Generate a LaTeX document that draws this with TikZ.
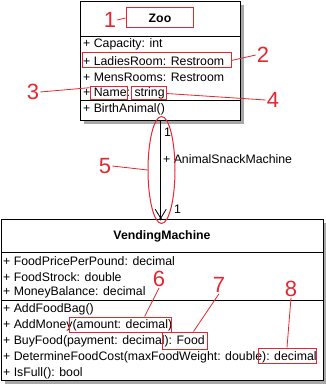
\documentclass[tikz,border=0pt]{standalone}
\usepackage{fontspec}
\setmainfont{Liberation Sans}
\usepackage{tikz}
\usetikzlibrary{positioning,shapes.geometric,arrows.meta}
\definecolor{cred}{HTML}{E8262E}
\definecolor{cshadow}{HTML}{A8A8A8}
\definecolor{ctext}{HTML}{000000}

\tikzset{
  classbox/.style={draw=black,fill=white,line width=0.9pt,inner sep=0pt},
  shadowbox/.style={fill=cshadow,draw=none,inner sep=0pt},
  member/.style={anchor=west,inner sep=0pt,font=\fontsize{12.3}{14}\selectfont,text=ctext},
  redbox/.style={draw=cred,line width=1pt,inner sep=0pt},
  redtag/.style={text=cred,font=\fontsize{22}{24}\selectfont,inner sep=1pt},
  redline/.style={draw=cred,line width=0.8pt}
}

\begin{document}
\begin{tikzpicture}[x=1pt,y=-1pt]
  \useasboundingbox (0,0) rectangle (325,385);
  % Zoo class
  \node[shadowbox,minimum width=160pt,minimum height=119pt] (zooshadow) at (164,64.5) {};
  \node[classbox,minimum width=160pt,minimum height=119pt] (zoo) at (160,60.5) {};
  \draw[line width=0.9pt] (80,36) -- (240,36);
  \draw[line width=0.9pt] (80,100) -- (240,100);
  \node[font=\bfseries\fontsize{12.3}{14}\selectfont] (zootitle) at (160,18) {Zoo};
  \node[member] (zcap) at (83,44) {+ Capacity: int};
  \node[member] (zladies) at (83,61) {+ LadiesRoom: Restroom};
  \node[member] (zmens) at (83,77) {+ MensRooms: Restroom};
  \node[member] (zname) at (83,93) {+ Name: string};
  \node[member] (zbirth) at (83,109) {+ BirthAnimal()};
  % VendingMachine class
  \node[shadowbox,minimum width=322pt,minimum height=161pt] (vmshadow) at (166,303.5) {};
  \node[classbox,minimum width=322pt,minimum height=161pt] (vm) at (162,299.5) {};
  \draw[line width=0.9pt] (1,252) -- (323,252);
  \draw[line width=0.9pt] (1,300) -- (323,300);
  \node[font=\bfseries\fontsize{12.3}{14}\selectfont] (vmtitle) at (162,236) {VendingMachine};
  \node[member] (vprice) at (3,261) {+ FoodPricePerPound: decimal};
  \node[member] (vstock) at (3,277) {+ FoodStrock: double};
  \node[member] (vbal) at (3,292) {+ MoneyBalance: decimal};
  \node[member] (vbag) at (3,309) {+ AddFoodBag()};
  \node[member] (vmoney) at (3,325) {+ AddMoney(amount: decimal)};
  \node[member] (vbuy) at (3,341) {+ BuyFood(payment: decimal): Food};
  \node[member] (vcost) at (3,357) {+ DetermineFoodCost(maxFoodWeight: double): decimal};
  \node[member] (vfull) at (3,373) {+ IsFull(): bool};
  % association
  \coordinate (atop) at (160.7,120);
  \coordinate (abot) at (160.7,219);
  \draw[line width=0.8pt,-{Straight Barb[length=9pt,width=11pt]}] (atop) -- (abot);
  \fill (abot) circle (1.5pt);
  \node[member] (mult1) at (164,132) {1};
  \node[member] (role) at (163,159) {+ AnimalSnackMachine};
  \node[member] (mult2) at (174,209) {1};
  % red markings
  \node[redbox,minimum width=67pt,minimum height=20pt] (r1) at (159.5,18) {};
  \node[redbox,minimum width=149pt,minimum height=15pt] (r2) at (156.5,60.5) {};
  \node[redbox,minimum width=37pt,minimum height=13pt] (r3) at (108.5,93.5) {};
  \node[redbox,minimum width=35pt,minimum height=13pt] (r4) at (148.5,93.5) {};
  \node[draw=cred,line width=1pt,ellipse,inner sep=0pt,minimum width=27pt,minimum height=107pt] (e5) at (161.5,170) {};
  \node[redbox,minimum width=102pt,minimum height=15pt] (r6) at (120,324.5) {};
  \node[redbox,minimum width=45pt,minimum height=17pt] (r7) at (184.5,340.5) {};
  \node[redbox,minimum width=58pt,minimum height=15pt] (r8) at (287,355.5) {};
  \node[redtag] (n1) at (110,20) {1};
  \node[redtag] (n2) at (263,55) {2};
  \node[redtag] (n3) at (33,92) {3};
  \node[redtag] (n4) at (273,100) {4};
  \node[redtag] (n5) at (105,166) {5};
  \node[redtag] (n6) at (159,279) {6};
  \node[redtag] (n7) at (219,285) {7};
  \node[redtag] (n8) at (291,289) {8};
  \draw[redline] (n1.east) -- (r1.west);
  \draw[redline] (r2.east) -- (n2.west);
  \draw[redline] (n3.east) -- (r3.163);
  \draw[redline] (r4.east) -- (n4.west);
  \draw[redline] (n5.east) -- (e5.west);
  \draw[redline] (n6.south) -- (r6.18);
  \draw[redline] (n7.south) -- (r7.45);
  \draw[redline] (n8.south) -- (r8.north);
\end{tikzpicture}
\end{document}
